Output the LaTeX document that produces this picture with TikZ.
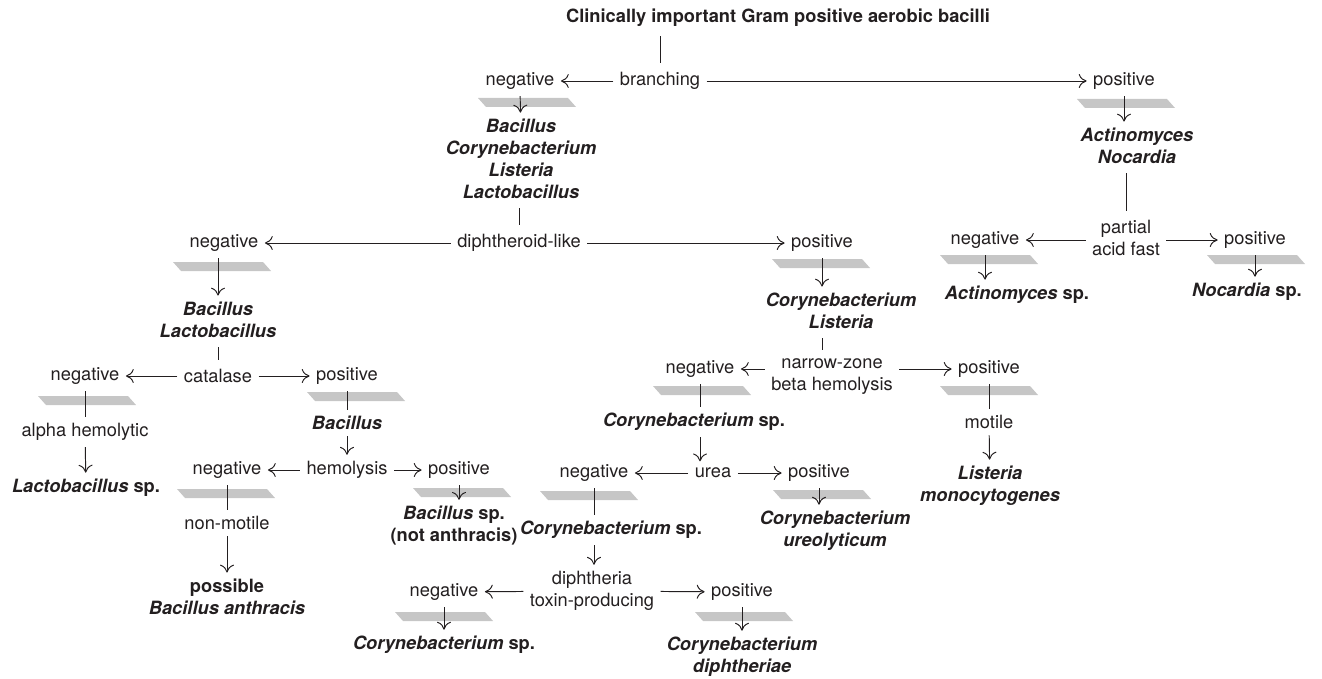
\documentclass[tikz,border=0pt]{standalone}
\usepackage{fontspec}
\setmainfont{TeX Gyre Heros}
\usetikzlibrary{arrows.meta}
\definecolor{barfill}{RGB}{198,198,198}
\definecolor{ink}{RGB}{35,31,32}

\begin{document}
\fontsize{10.4}{12.5}\selectfont
\begin{tikzpicture}[x = 0.02cm, y = -0.02cm, line width = 0.55pt, color = ink,
                      >={To[length = 4.5pt, width = 8pt]},
                      taxon/.style = {font = \bfseries\itshape, align = center},
                      test/.style = {align = center},
                      bar/.style = {fill = barfill, draw = none},
                      stem/.style = {shorten <= 0.6mm, shorten >= 0.6mm}]
    \useasboundingbox (0, 0) rectangle (1322, 679);
    \fill [bar] (478, 98) -- ++(90, 0) -- ++(8, 9) -- ++(-90, 0) -- cycle;
    \fill [bar] (1077, 99) -- ++(90, 0) -- ++(8, 9) -- ++(-90, 0) -- cycle;
    \fill [bar] (173, 262) -- ++(90, 0) -- ++(8, 9) -- ++(-90, 0) -- cycle;
    \fill [bar] (772, 259) -- ++(90, 0) -- ++(8, 9) -- ++(-90, 0) -- cycle;
    \fill [bar] (940, 255) -- ++(90, 0) -- ++(8, 9) -- ++(-90, 0) -- cycle;
    \fill [bar] (1207, 255) -- ++(90, 0) -- ++(8, 9) -- ++(-90, 0) -- cycle;
    \fill [bar] (38, 396) -- ++(90, 0) -- ++(8, 9) -- ++(-90, 0) -- cycle;
    \fill [bar] (307, 392) -- ++(90, 0) -- ++(8, 9) -- ++(-90, 0) -- cycle;
    \fill [bar] (177, 489) -- ++(90, 0) -- ++(8, 9) -- ++(-90, 0) -- cycle;
    \fill [bar] (413, 488) -- ++(90, 0) -- ++(8, 9) -- ++(-90, 0) -- cycle;
    \fill [bar] (653, 386) -- ++(90, 0) -- ++(8, 9) -- ++(-90, 0) -- cycle;
    \fill [bar] (940, 386) -- ++(90, 0) -- ++(8, 9) -- ++(-90, 0) -- cycle;
    \fill [bar] (540, 491) -- ++(90, 0) -- ++(8, 9) -- ++(-90, 0) -- cycle;
    \fill [bar] (773, 490) -- ++(90, 0) -- ++(8, 9) -- ++(-90, 0) -- cycle;
    \fill [bar] (395, 612) -- ++(90, 0) -- ++(8, 9) -- ++(-90, 0) -- cycle;
    \fill [bar] (695, 612) -- ++(90, 0) -- ++(8, 9) -- ++(-90, 0) -- cycle;

    \node [font = \bfseries] (title) at (778, 18){Clinically important Gram positive aerobic bacilli};
    \node (branching) at (660, 81){branching};
    \node (brneg) at (520, 81){negative};
    \node (brpos) at (1124, 81){positive};
    \node [taxon] (genera) at (521, 159){Bacillus\\Corynebacterium\\Listeria\\Lactobacillus};
    \node [taxon] (actnoc) at (1137, 146){Actinomyces\\Nocardia};
    \node [test] (acidfast) at (1126, 238){partial\\acid fast};
    \node (afneg) at (985, 240){negative};
    \node (afpos) at (1255, 240){positive};
    \node [taxon] (actsp) at (1017, 295){Actinomyces \textup{sp.}};
    \node [taxon] (nocsp) at (1247, 292){Nocardia \textup{sp.}};

    \node (diph) at (519, 243){diphtheroid-like};
    \node (dineg) at (224, 243){negative};
    \node (dipos) at (822, 243){positive};
    \node [taxon] (baclac) at (218, 320){Bacillus\\Lactobacillus};
    \node [taxon] (corlis) at (841, 311){Corynebacterium\\Listeria};

    \node (catalase) at (218, 376){catalase};
    \node (catneg) at (85, 376){negative};
    \node (catpos) at (347, 376){positive};
    \node (alpha) at (85, 432){alpha hemolytic};
    \node [taxon] (lactsp) at (86, 488){Lactobacillus \textup{sp.}};
    \node [taxon] (bacillus) at (347, 423){Bacillus};
    \node (hemolysis) at (347, 470){hemolysis};
    \node (hemneg) at (227, 470){negative};
    \node (hempos) at (459, 470){positive};
    \node (nonmotile) at (227, 523){non-motile};
    \node [taxon] (anthracis) at (227, 597){\textup{possible}\\Bacillus anthracis};
    \node [taxon] (bacsp) at (454, 526){Bacillus \textup{sp.}\\\textup{(not anthracis)}};

    \node [test] (narrow) at (832, 377){narrow-zone\\beta hemolysis};
    \node (narneg) at (700, 369){negative};
    \node (narpos) at (989, 369){positive};
    \node [taxon] (corsp) at (694, 422){Corynebacterium \textup{sp.}};
    \node (motile) at (989, 422){motile};
    \node [taxon] (listeria) at (990, 486){Listeria\\monocytogenes};

    \node (urea) at (713, 473){urea};
    \node (ureneg) at (594, 473){negative};
    \node (urepos) at (819, 473){positive};
    \node [taxon] (ureolyt) at (835, 531){Corynebacterium\\ureolyticum};
    \node [taxon] (corspb) at (611, 530){Corynebacterium \textup{sp.}};
    \node [test] (toxin) at (592, 591){diphtheria\\toxin-producing};
    \node (toxneg) at (444, 592){negative};
    \node (toxpos) at (742, 592){positive};
    \node [taxon] (corspc) at (444, 645){Corynebacterium \textup{sp.}};
    \node [taxon] (diphtheriae) at (742, 657){Corynebacterium\\diphtheriae};

    \draw [stem] (branching.north) -- (branching |- title.south);
    \draw [->] (branching) -- (brneg);
    \draw [->] (branching) -- (brpos);
    \draw [->] (brneg) -- (genera);
    \draw [->] (brpos) -- (brpos |- actnoc.north);
    \draw [stem] (acidfast |- actnoc.south) -- (acidfast);
    \draw [->] (acidfast.west |- afneg) -- (afneg);
    \draw [->] (acidfast.east |- afpos) -- (afpos);
    \draw [->] (afneg) -- (afneg |- actsp.north);
    \draw [->] (afpos) -- (afpos |- nocsp.north);

    \draw [stem] (genera.south -| diph) -- (diph);
    \draw [->] (diph) -- (dineg);
    \draw [->] (diph) -- (dipos);
    \draw [->] (dineg.south -| baclac) -- (baclac);
    \draw [->] (dipos) -- (dipos |- corlis.north);

    \draw [stem] (baclac) -- (catalase);
    \draw [->] (catalase) -- (catneg);
    \draw [->] (catalase) -- (catpos);
    \draw (catneg) -- (alpha);
    \draw [->] (alpha) -- (lactsp);
    \draw (catpos) -- (bacillus);
    \draw [->] (bacillus) -- (hemolysis);
    \draw [->] (hemolysis) -- (hemneg);
    \draw [->] (hemolysis) -- (hempos);
    \draw (hemneg) -- (nonmotile);
    \draw [->] (nonmotile) -- (anthracis);
    \draw [->] (hempos) -- (hempos |- bacsp.north);

    \draw [stem] (dipos |- corlis.south) -- (dipos |- narrow.north);
    \draw [->] (narrow.west |- narneg) -- (narneg);
    \draw [->] (narrow.east |- narpos) -- (narpos);
    \draw (narneg) -- (narneg |- corsp.north);
    \draw (narpos) -- (motile);
    \draw [->] (motile) -- (listeria);
    \draw [->] (narneg |- corsp.south) -- (narneg |- urea.north);

    \draw [->] (urea) -- (ureneg);
    \draw [->] (urea) -- (urepos);
    \draw [->] (urepos) -- (urepos |- ureolyt.north);
    \draw (ureneg) -- (ureneg |- corspb.north);
    \draw [->] (ureneg |- corspb.south) -- (ureneg |- toxin.north);
    \draw [->] (toxin) -- (toxneg);
    \draw [->] (toxin) -- (toxpos);
    \draw [->] (toxneg) -- (corspc);
    \draw [->] (toxpos) -- (diphtheriae);
\end{tikzpicture}
\end{document}
